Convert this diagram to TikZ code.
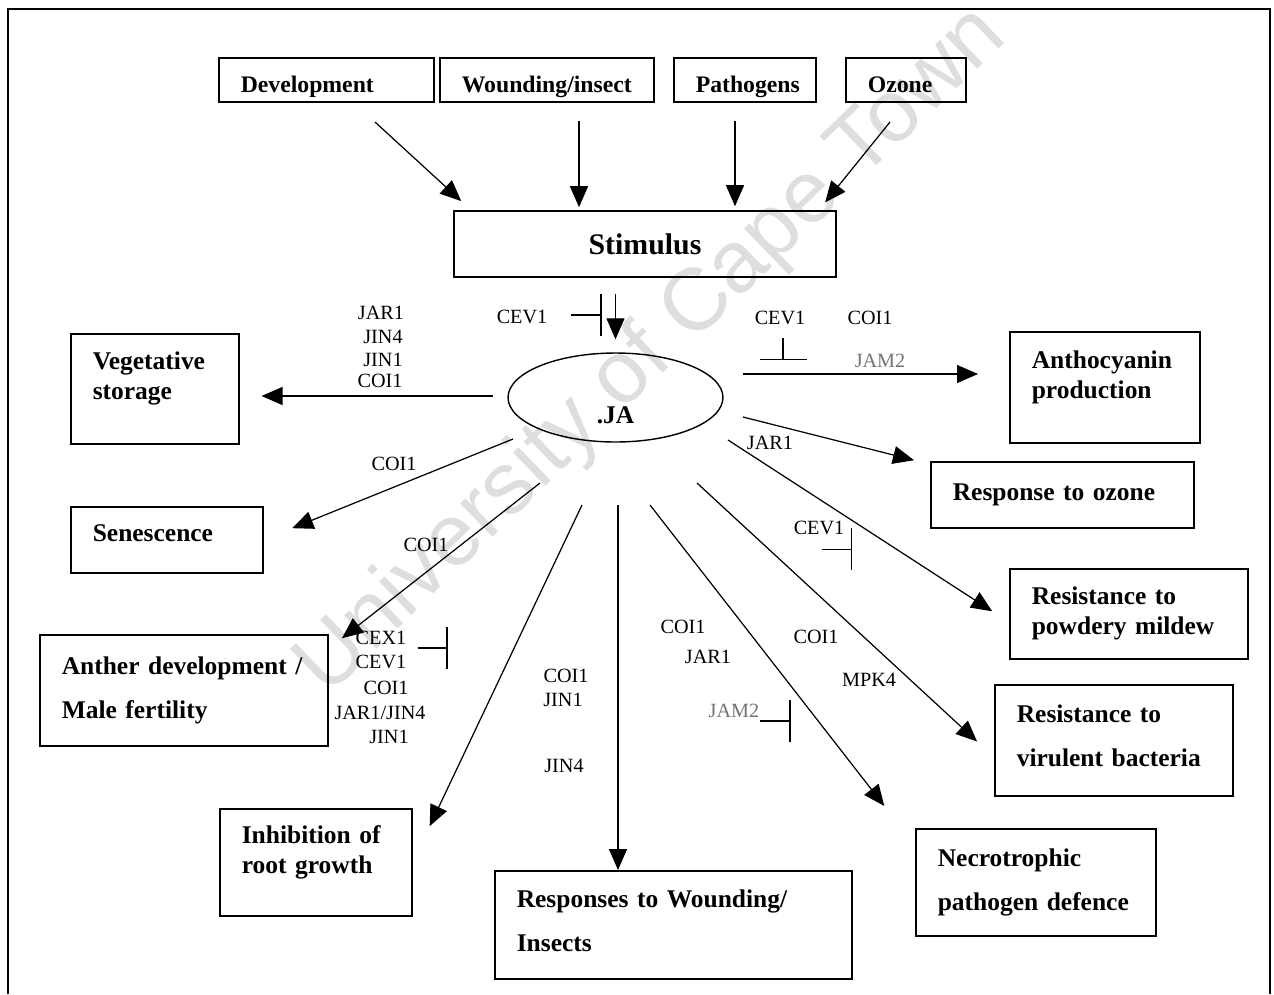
\documentclass[tikz,border=0pt]{standalone}
\usepackage{fontspec}
\setmainfont{Liberation Serif}
\newfontfamily\wmfont{Liberation Sans}
\usetikzlibrary{arrows.meta,shapes.geometric}

\tikzset{
	box/.style={draw,rectangle,line width=0.9pt,anchor=north west,align=left,inner xsep=0.44cm,inner ysep=0pt,font=\bfseries\fontsize{14.5}{17}\selectfont},
	topbox/.style={box,minimum height=0.88cm,text height=17pt,text depth=3pt,font=\bfseries\fontsize{13.5}{16}\selectfont},
	lbl/.style={inner sep=0pt,font=\fontsize{11.5}{13}\selectfont},
	faint/.style={lbl,text=black!55},
	arr/.style={-{Triangle[length=0.42cm,width=0.36cm]},line width=0.7pt},
	tee/.style={-{Bar[width=0.84cm]},line width=0.7pt},
	wm/.style={text=black!13,font=\wmfont\fontsize{50}{50}\selectfont,rotate=44}
}

\begin{document}
\begin{tikzpicture}[x=0.02cm,y=-0.02cm]
	\useasboundingbox (0,0) rectangle (1274,994);
	\node[wm] (wmark) at (652,352) {University of Cape Town};
	\draw[line width=0.9pt] (8,994) -- (8,9) -- (1270,9) -- (1270,994);

	% stimuli
	\node[topbox,text width=3.42cm] (dev) at (218,57) {Development};
	\node[topbox,text width=3.40cm] (wound) at (439,57) {Wounding/insect};
	\node[topbox,text width=1.96cm] (path) at (673,57) {Pathogens};
	\node[topbox,text width=1.52cm] (ozone) at (845,57) {Ozone};
	\node[draw,line width=0.9pt,minimum width=7.64cm,minimum height=1.32cm,font=\bfseries\fontsize{17}{20}\selectfont] (stim) at (645,244) {Stimulus};
	\node[draw,ellipse,line width=0.8pt,minimum width=4.3cm,minimum height=1.78cm,inner sep=0pt,font=\bfseries\fontsize{14.5}{17}\selectfont] (ja) at (615.5,397.5) {\raisebox{-0.36cm}[\height][\depth]{.JA}};

	% responses
	\node[box,text width=2.48cm,minimum height=2.2cm,text depth=31.5pt] (veg) at (70,333) {Vegetative\\storage};
	\node[box,text width=2.92cm,minimum height=2.22cm,text depth=31.5pt] (antho) at (1009,331) {Anthocyanin\\production};
	\node[box,text width=4.38cm,minimum height=1.32cm] (ozresp) at (930,461) {Response~to~ozone};
	\node[box,text width=2.96cm,minimum height=1.32cm,text depth=8pt] (senes) at (70,506) {Senescence};
	\node[box,text width=3.88cm,minimum height=1.80cm] (powd) at (1009,568) {Resistance~to\\powdery~mildew};
	\node[box,text width=4.88cm,minimum height=2.22cm] (anther) at (39,634) {Anther~development~/\\[8pt]Male~fertility};
	\node[box,text width=3.88cm,minimum height=2.22cm,text depth=30.6pt] (bact) at (994,684) {Resistance~to\\[8pt]virulent~bacteria};
	\node[box,text width=2.96cm,minimum height=2.14cm,text depth=31.5pt] (root) at (219,808) {Inhibition~of\\root~growth};
	\node[box,text width=6.26cm,minimum height=2.16cm,text depth=29.6pt] (wresp) at (494,870) {Responses~to~Wounding/\\[8pt]Insects};
	\node[box,text width=3.92cm,minimum height=2.14cm] (necro) at (915,828) {Necrotrophic\\[8pt]pathogen~defence};

	% gene labels
	\node[lbl] (cevA) at (522,317) {CEV1};
	\node[lbl] (jarA) at (381,313) {JAR1};
	\node[lbl] (jin4A) at (383,337) {JIN4};
	\node[lbl] (jin1A) at (383,360) {JIN1};
	\node[lbl] (coiA) at (380,381) {COI1};
	\node[lbl] (cevB) at (780,318) {CEV1};
	\node[lbl] (coiB) at (870,318) {COI1};
	\node[faint] (jamA) at (880,361) {JAM2};
	\node[lbl] (jarB) at (770,443) {JAR1};
	\node[lbl] (coiC) at (394,464) {COI1};
	\node[lbl] (coiD) at (426,545) {COI1};
	\node[lbl] (cexA) at (381,638) {CEX1};
	\node[lbl] (cevD) at (381,662) {CEV1};
	\node[lbl] (coiE) at (386,688) {COI1};
	\node[lbl] (jjA) at (380,713) {JAR1/JIN4};
	\node[lbl] (jin1B) at (389,737) {JIN1};
	\node[lbl] (coiF) at (566,676) {COI1};
	\node[lbl] (jin1C) at (563,700) {JIN1};
	\node[lbl] (jin4B) at (564,766) {JIN4};
	\node[lbl] (coiG) at (683,627) {COI1};
	\node[lbl] (jarC) at (708,657) {JAR1};
	\node[faint] (jamB) at (734,711) {JAM2};
	\node[lbl] (cevC) at (819,528) {CEV1};
	\node[lbl] (coiH) at (816,637) {COI1};
	\node[lbl] (mpkA) at (869,680) {MPK4};

	% free ends of the connectors
	\coordinate (sDev) at (375,122);
	\coordinate (sWnd) at (579,121);
	\coordinate (sPat) at (735,121);
	\coordinate (sOzo) at (890,122);
	\coordinate (jVeg) at (493,396);
	\coordinate (jAnt) at (743,374);
	\coordinate (jOzr) at (743,417);
	\coordinate (jSen) at (513,439);
	\coordinate (jAnd) at (540,483);
	\coordinate (jRoo) at (582,505);
	\coordinate (jWnd) at (618,505);
	\coordinate (jNec) at (650,505);
	\coordinate (jBac) at (697,483);
	\coordinate (jPow) at (728,440);

	\draw[arr,shorten >=0.27cm] (sDev) -- (stim.169);
	\draw[arr,shorten >=0.06cm] (sWnd) -- (sWnd |- stim.north);
	\draw[arr,shorten >=0.08cm] (sPat) -- (sPat |- stim.north);
	\draw[arr,shorten >=0.2cm] (sOzo) -- (stim.11.3);
	\draw[arr,shorten <=0.32cm,shorten >=0.26cm] (stim.south -| ja.north) -- (ja.north);

	\draw[arr,shorten >=0.44cm] (jVeg) -- (veg.east |- jVeg);
	\draw[arr,shorten >=0.62cm] (jAnt) -- (antho.west |- jAnt);
	\draw[arr,shorten >=0.33cm] (jOzr) -- (ozresp.167);
	\draw[arr,shorten >=0.62cm] (jSen) -- (senes.east);
	\draw[arr,shorten >=0.34cm] (jAnd) -- (anther.16);
	\draw[arr,shorten >=0.8cm] (jRoo) -- (root.east);
	\draw[arr] (jWnd) -- (wresp.north -| jWnd);
	\draw[arr,shorten >=1.0cm] (jNec) -- (necro.163);
	\draw[arr,shorten >=0.46cm] (jBac) -- (bact.188);
	\draw[arr,shorten >=0.4cm] (jPow) -- (powd.184);

	% inhibitions
	\draw[tee] (cevA.east) ++(23,-2) -- ++(31,0);
	\draw[tee,-{Bar[width=0.94cm]}] (cevB.south) ++(3,13) -- ++(0,22);
	\draw[tee] (cexA.east) ++(11,10) -- ++(30,0);
	\draw[tee] (jamB.east) ++(0,10) -- ++(31,0);
	\draw[tee] (cevC.south) ++(3,14) -- ++(30,0);
\end{tikzpicture}
\end{document}
